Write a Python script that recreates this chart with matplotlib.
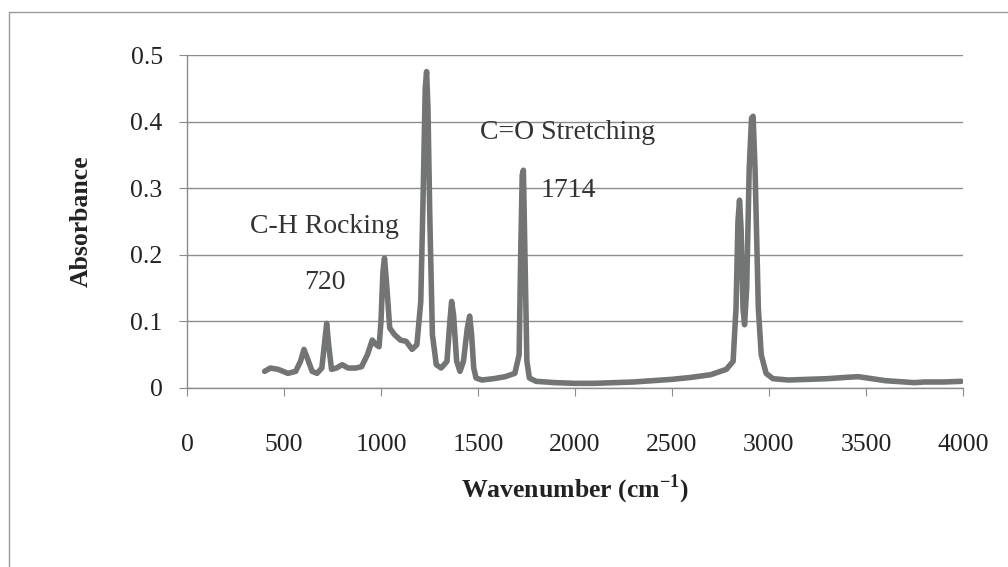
import matplotlib
matplotlib.use("Agg")
import matplotlib.pyplot as plt
from matplotlib.patches import Rectangle

wavenumber = [400, 430, 470, 520, 560, 585, 603, 620, 645, 670, 695, 710, 720, 730, 745,
              770, 800, 830, 870, 900, 930, 955, 975, 990, 1000, 1010, 1018, 1028, 1045,
              1070, 1100, 1130, 1160, 1185, 1205, 1218, 1228, 1235, 1242, 1252, 1265,
              1285, 1310, 1340, 1355, 1364, 1374, 1390, 1407, 1425, 1445, 1457, 1467,
              1478, 1490, 1520, 1580, 1640, 1690, 1712, 1720, 1728, 1734, 1742, 1752,
              1765, 1800, 1900, 2000, 2100, 2200, 2300, 2400, 2500, 2600, 2700, 2780,
              2815, 2830, 2840, 2848, 2856, 2866, 2874, 2885, 2898, 2910, 2918, 2928,
              2945, 2960, 2985, 3020, 3100, 3200, 3300, 3400, 3460, 3530, 3600, 3700,
              3750, 3800, 3900, 3990]
absorbance = [0.025, 0.03, 0.028, 0.022, 0.025, 0.04, 0.058, 0.045, 0.025, 0.022, 0.03,
              0.07, 0.097, 0.065, 0.028, 0.03, 0.035, 0.03, 0.03, 0.032, 0.05, 0.072,
              0.065, 0.062, 0.1, 0.175, 0.195, 0.16, 0.09, 0.08, 0.072, 0.07, 0.058,
              0.065, 0.13, 0.3, 0.45, 0.475, 0.42, 0.25, 0.08, 0.035, 0.03, 0.04, 0.1,
              0.13, 0.11, 0.04, 0.025, 0.04, 0.09, 0.108, 0.08, 0.03, 0.015, 0.012,
              0.014, 0.017, 0.022, 0.05, 0.2, 0.32, 0.327, 0.2, 0.04, 0.015, 0.01,
              0.008, 0.007, 0.007, 0.008, 0.009, 0.011, 0.013, 0.016, 0.02, 0.028,
              0.04, 0.12, 0.25, 0.282, 0.24, 0.12, 0.095, 0.15, 0.33, 0.405, 0.408,
              0.33, 0.12, 0.05, 0.022, 0.014, 0.012, 0.013, 0.014, 0.016, 0.017,
              0.014, 0.011, 0.009, 0.008, 0.009, 0.009, 0.01]

x_ticks = [0, 500, 1000, 1500, 2000, 2500, 3000, 3500, 4000]
y_ticks = [0, 0.1, 0.2, 0.3, 0.4, 0.5]
y_ticklabels = ["0", "0.1", "0.2", "0.3", "0.4", "0.5"]

plt.rcParams['font.family'] = ['Liberation Serif', 'DejaVu Serif']

fig = plt.figure(figsize=(10.08, 5.67), dpi=100)
fig.patches.append(Rectangle((9/1008, -0.05), 1.1, 1 - 12/567 + 0.05,
                             transform=fig.transFigure, fill=False,
                             edgecolor='#9a9a9a', lw=1.0))
ax = fig.add_axes([187/1008, 1 - 388/567, (963 - 187)/1008, (388 - 55)/567])

ax.plot(wavenumber, absorbance, color='#727573', lw=4.0, solid_joinstyle='round',
        solid_capstyle='round', zorder=3)

ax.set_xlim(0, 4000)
ax.set_ylim(0, 0.5)
ax.set_xticks(x_ticks)
ax.set_yticks(y_ticks)
ax.set_yticklabels(y_ticklabels)
ax.grid(axis='y', color='#8c8c8c', lw=1.0)
ax.set_axisbelow(True)
for s in ['top', 'right']:
    ax.spines[s].set_visible(False)
for s in ['left', 'bottom']:
    ax.spines[s].set_color('#8c8c8c')
    ax.spines[s].set_linewidth(1.0)
ax.tick_params(axis='x', direction='out', length=6, color='#8c8c8c', pad=27,
               labelsize=18.5, labelcolor='#222222')
ax.tick_params(axis='y', direction='out', length=6, color='#8c8c8c', pad=11.5,
               labelsize=18.5, labelcolor='#222222')

ax.set_xlabel('Wavenumber (cm$^{\\mathregular{-1}}$)', fontsize=18.5, fontweight='bold',
              labelpad=12, color='#222222')
ax.set_ylabel('Absorbance', fontsize=18.5, fontweight='bold', labelpad=27, color='#222222')

ax.text(711, 0.243, 'C-H Rocking', fontsize=20, ha='center', va='center', color='#333333')
ax.text(711, 0.158, '720', fontsize=20, ha='center', va='center', color='#333333')
ax.text(1964, 0.383, 'C=O Stretching', fontsize=20, ha='center', va='center', color='#333333')
ax.text(1964, 0.297, '1714', fontsize=20, ha='center', va='center', color='#333333')

fig.savefig('out.png', dpi=100)
